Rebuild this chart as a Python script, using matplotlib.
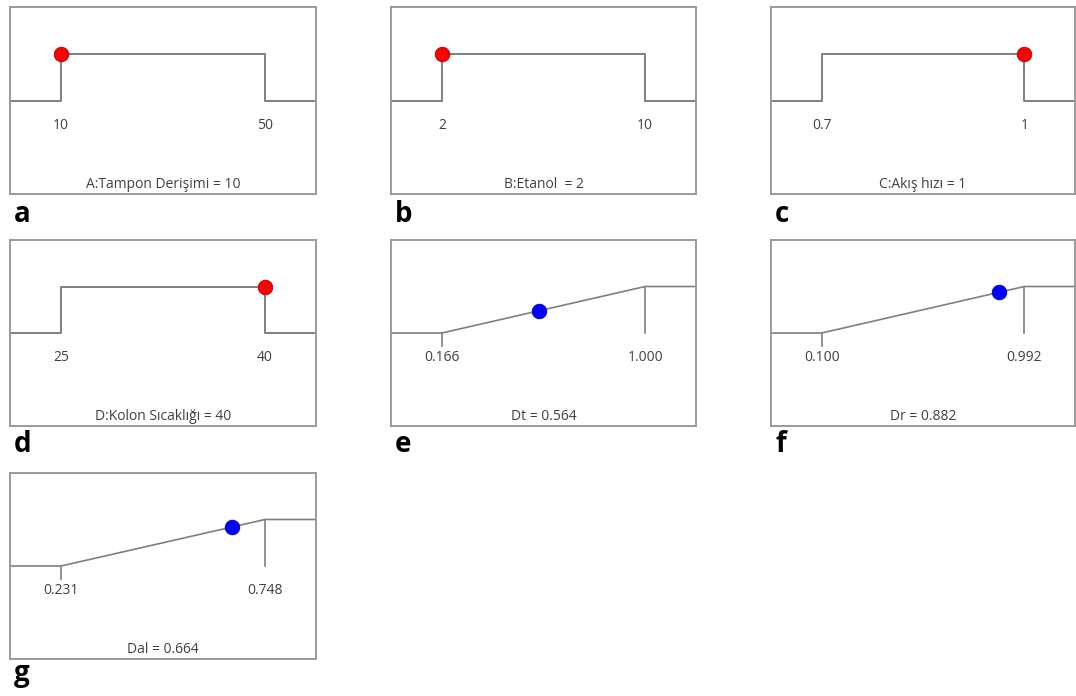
import matplotlib.pyplot as plt

plt.rcParams['font.family'] = ['Open Sans', 'DejaVu Sans']

# === Panel data ===
letters = ['a', 'b', 'c', 'd', 'e', 'f', 'g']
kinds = ['factor', 'factor', 'factor', 'factor', 'resp', 'resp', 'resp']
lows = [10, 2, 0.7, 25, 0.166, 0.100, 0.231]
highs = [50, 10, 1, 40, 1.000, 0.992, 0.748]
low_labels = ['10', '2', '0.7', '25', '0.166', '0.100', '0.231']
high_labels = ['50', '10', '1', '40', '1.000', '0.992', '0.748']
values = [10, 2, 1, 40, 0.564, 0.882, 0.664]
captions = ['A:Tampon Derişimi = 10', 'B:Etanol  = 2', 'C:Akış hızı = 1',
            'D:Kolon Sıcaklığı = 40', 'Dt = 0.564', 'Dr = 0.882', 'Dal = 0.664']

W, H = 1076, 696
fig = plt.figure(figsize=(W / 100, H / 100), dpi=100)

# pixel boxes (left, top, right, bottom)
cols = [(10, 316), (391, 696), (771, 1075)]
rows = [(7, 194), (240, 426), (473, 659)]
letter_base = [222, 452, 681]

LOW, HIGH = 0.5, 0.75
line_c = '#7f7f7f'
text_c = '#404040'

for i in range(7):
    r, c = divmod(i, 3)
    x0, x1 = cols[c]
    y0, y1 = rows[r]
    ax = fig.add_axes([x0 / W, 1 - y1 / H, (x1 - x0) / W, (y1 - y0) / H])
    lo, hi, v = lows[i], highs[i], values[i]
    span = hi - lo
    xmin, xmax = lo - 0.25 * span, hi + 0.25 * span
    ax.set_xlim(xmin, xmax)
    ax.set_ylim(0, 1)
    ax.set_xticks([])
    ax.set_yticks([])
    for s in ax.spines.values():
        s.set_color('#9a9a9a')
        s.set_linewidth(1.4)

    if kinds[i] == 'factor':
        xs = [xmin, lo, lo, hi, hi, xmax]
        ys = [LOW, LOW, HIGH, HIGH, LOW, LOW]
        ax.plot(xs, ys, color=line_c, lw=1.4)
        ax.plot([v], [HIGH], 'o', color='#ff0000', markeredgecolor='#b00000',
                markeredgewidth=0.6, markersize=10.5, zorder=5)
    else:
        xs = [xmin, lo, hi, xmax]
        ys = [LOW, LOW, HIGH, HIGH]
        ax.plot(xs, ys, color=line_c, lw=1.2)
        ax.plot([lo, lo], [LOW, LOW - 0.07], color=line_c, lw=1.2)
        ax.plot([hi, hi], [HIGH, LOW], color=line_c, lw=1.2)
        vy = LOW + (v - lo) / span * (HIGH - LOW)
        ax.plot([v], [vy], 'o', color='#0000ff', markeredgecolor='#0000a0',
                markeredgewidth=0.6, markersize=10.5, zorder=5)

    ax.text(lo, 0.366, low_labels[i], ha='center', va='center',
            fontsize=10, color=text_c)
    ax.text(hi, 0.366, high_labels[i], ha='center', va='center',
            fontsize=10, color=text_c)
    ax.text(0.5, 0.05, captions[i], transform=ax.transAxes, ha='center',
            va='center', fontsize=10, color=text_c)

    fig.text((x0 + 4) / W, 1 - letter_base[r] / H, letters[i],
             fontsize=20, fontweight='bold', color='black',
             ha='left', va='baseline')

fig.savefig('out.png', dpi=100)
